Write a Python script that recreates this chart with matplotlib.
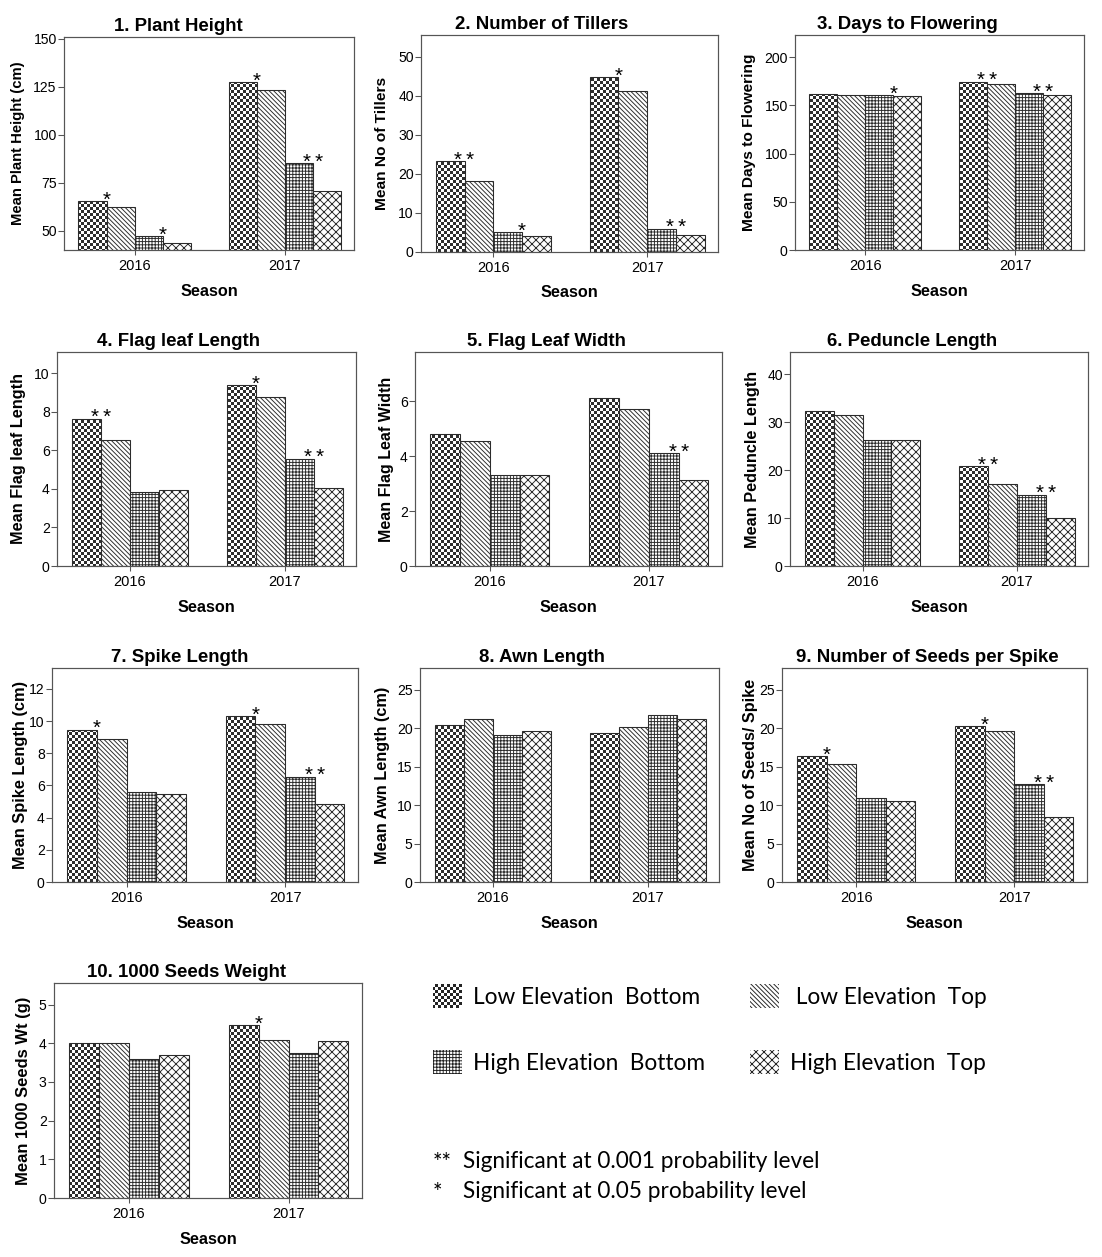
import numpy as np
import matplotlib
matplotlib.use('Agg')
import matplotlib.pyplot as plt
import matplotlib.hatch as mhatch
from matplotlib.path import Path
from matplotlib.patches import Patch

DPI = 96
W, H = 1102, 1257

plt.rcParams['font.family'] = ['Liberation Sans', 'DejaVu Sans']
plt.rcParams['hatch.linewidth'] = 0.7

# means; rows = LEB, LET, HEB, HET ; columns = 2016, 2017
seasons = ['2016', '2017']
groups = ['Low Elevation  Bottom', ' Low Elevation  Top',
          'High Elevation  Bottom', 'High Elevation  Top']

plant_height = [[65.6, 127.4], [62.5, 123.3], [47.4, 85.2], [43.4, 70.5]]
plant_height_sig = [['*', '*'], ['', ''], ['*', '**'], ['', '']]
tillers = [[23.2, 44.8], [18.3, 41.3], [5.2, 6.0], [4.1, 4.4]]
tillers_sig = [['**', '*'], ['', ''], ['*', '**'], ['', '']]
flowering = [[161.9, 174.7], [160.9, 172.6], [161.0, 162.7], [159.6, 160.9]]
flowering_sig = [['', '**'], ['', ''], ['*', '**'], ['', '']]
flag_length = [[7.64, 9.38], [6.56, 8.77], [3.84, 5.56], [3.92, 4.06]]
flag_length_sig = [['**', '*'], ['', ''], ['', '**'], ['', '']]
flag_width = [[4.81, 6.14], [4.55, 5.74], [3.33, 4.11], [3.31, 3.15]]
flag_width_sig = [['', ''], ['', ''], ['', '**'], ['', '']]
peduncle = [[32.3, 20.8], [31.4, 17.0], [26.2, 14.9], [26.2, 10.1]]
peduncle_sig = [['', '**'], ['', ''], ['', '**'], ['', '']]
spike = [[9.47, 10.32], [8.86, 9.84], [5.6, 6.54], [5.48, 4.86]]
spike_sig = [['*', '*'], ['', ''], ['', '**'], ['', '']]
awn = [[20.4, 19.4], [21.2, 20.1], [19.1, 21.7], [19.6, 21.15]]
awn_sig = [['', ''], ['', ''], ['', ''], ['', '']]
seeds = [[16.35, 20.3], [15.35, 19.6], [10.86, 12.67], [10.5, 8.48]]
seeds_sig = [['*', '*'], ['', ''], ['', '**'], ['', '']]
seed_wt = [[4.0, 4.47], [4.0, 4.08], [3.59, 3.75], [3.69, 4.07]]
seed_wt_sig = [['', '*'], ['', ''], ['', ''], ['', '']]

panels = [
    ('1. Plant Height', 'Mean Plant Height (cm)', plant_height, plant_height_sig, (40, 151), [50, 75, 100, 125, 150]),
    ('2. Number of Tillers', 'Mean No of Tillers', tillers, tillers_sig, (0, 55.6), [0, 10, 20, 30, 40, 50]),
    ('3. Days to Flowering', 'Mean Days to Flowering', flowering, flowering_sig, (0, 223), [0, 50, 100, 150, 200]),
    ('4. Flag leaf Length', 'Mean Flag leaf Length', flag_length, flag_length_sig, (0, 11.1), [0, 2, 4, 6, 8, 10]),
    ('5. Flag Leaf Width', 'Mean Flag Leaf Width', flag_width, flag_width_sig, (0, 7.8), [0, 2, 4, 6]),
    ('6. Peduncle Length', 'Mean Peduncle Length', peduncle, peduncle_sig, (0, 44.6), [0, 10, 20, 30, 40]),
    ('7. Spike Length', 'Mean Spike Length (cm)', spike, spike_sig, (0, 13.3), [0, 2, 4, 6, 8, 10, 12]),
    ('8. Awn Length', 'Mean Awn Length (cm)', awn, awn_sig, (0, 27.8), [0, 5, 10, 15, 20, 25]),
    ('9. Number of Seeds per Spike', 'Mean No of Seeds/ Spike', seeds, seeds_sig, (0, 27.8), [0, 5, 10, 15, 20, 25]),
    ('10. 1000 Seeds Weight', 'Mean 1000 Seeds Wt (g)', seed_wt, seed_wt_sig, (0, 5.56), [0, 1, 2, 3, 4, 5]),
]

# axes boxes in pixels (left, right, top, bottom), title x (axes frac),
# ylabel centre offset (px left of axes), ylabel font size
layout = [
    ((64, 354, 37, 250), 0.393, 46, 11.2),
    ((421, 718, 35, 252), 0.407, 39, 11.6),
    ((795, 1084, 35, 250), 0.388, 46, 11.6),
    ((57, 356, 352, 566), 0.408, 38, 12.2),
    ((415, 722, 352, 566), 0.427, 29, 12.0),
    ((790, 1088, 352, 566), 0.410, 38, 12.2),
    ((52, 358, 668, 882), 0.418, 31, 12.3),
    ((420, 719, 668, 882), 0.408, 37, 12.2),
    ((782, 1087, 668, 882), 0.478, 32, 12.2),
    ((54, 362, 983, 1198), 0.430, 30, 12.4),
]


class CheckerHatch(mhatch.HatchPatternBase):
    """checkerboard of filled squares, takes the place of the '*' hatch"""
    filled = True

    def __init__(self, hatch, density):
        self.n = 32 if '*' in hatch else 0
        self.num_vertices = self.n * self.n // 2 * 5

    def set_vertices_and_codes(self, vertices, codes):
        c = 1.0 / self.n
        e = plt.rcParams['hatch.linewidth'] / 72 / 2
        k = 0
        for i in range(self.n):
            for j in range(self.n):
                if (i + j) % 2:
                    continue
                x0, x1 = i * c + e, (i + 1) * c - e
                y0, y1 = j * c + e, (j + 1) * c - e
                vertices[k:k + 5] = [[x0, y0], [x1, y0], [x1, y1], [x0, y1], [x0, y0]]
                codes[k:k + 5] = [Path.MOVETO, Path.LINETO, Path.LINETO, Path.LINETO, Path.CLOSEPOLY]
                k += 5


mhatch._hatch_types[mhatch._hatch_types.index(mhatch.Stars)] = CheckerHatch

hatches = ['*', '\\' * 7, '+' * 5, 'xxxx']
edge = '#2b2b2b'

fig = plt.figure(figsize=(W / DPI, H / DPI), dpi=DPI)
x = np.arange(len(seasons))
bw = 0.187
offs = (np.arange(4) - 1.5) * bw

for (title, ylab, data, sig, ylim, yticks), ((l, r, t, b), tx, ylx, yfs) in zip(panels, layout):
    ax = fig.add_axes([l / W, 1 - b / H, (r - l) / W, (b - t) / H])
    vals = np.array(data)
    for i in range(4):
        bars = ax.bar(x + offs[i], vals[i], bw, color='white', edgecolor=edge,
                      linewidth=0.8, hatch=hatches[i])
        for rect, mark in zip(bars, sig[i]):
            if mark:
                ax.annotate(mark.replace('**', '*\u2009*'),
                            (rect.get_x() + rect.get_width(), rect.get_height()),
                            xytext=(0, -3.5), textcoords='offset points',
                            ha='center', va='baseline', fontsize=15.5)
    ax.set_xlim(-0.47, 1.46)
    ax.set_ylim(*ylim)
    ax.set_yticks(yticks)
    ax.set_xticks(x, seasons)
    for s in ax.spines.values():
        s.set_color('#555555')
        s.set_linewidth(0.9)
    ax.tick_params(axis='y', length=4.5, width=0.8, color='#555555', labelsize=10.5, pad=1)
    ax.tick_params(axis='x', length=4, width=0.8, color='#555555', labelsize=11, pad=3)
    ax.set_title(title, x=tx, pad=4.5, fontsize=14, fontweight='bold')
    ax.set_xlabel('Season', fontsize=12.2, fontweight='bold')
    ax.xaxis.set_label_coords(0.5, -41 / (b - t))
    ax.xaxis.label.set_va('center')
    ax.set_ylabel(ylab, fontsize=yfs, fontweight='bold')
    ax.yaxis.set_label_coords(-ylx / (r - l), 0.5)
    ax.yaxis.label.set_va('center')

handles = [Patch(facecolor='white', edgecolor='#222222', linewidth=0, hatch=h) for h in hatches]
order = [0, 2, 1, 3]
fig.legend([handles[i] for i in order], [groups[i] for i in order], ncol=2,
           loc='upper left', bbox_to_anchor=(433 / W, 1 - 984 / H), frameon=False,
           prop={'family': 'Lato', 'size': 17}, handlelength=1.3, handleheight=1.25,
           handletextpad=0.45, columnspacing=2.0, labelspacing=1.85,
           borderpad=0, borderaxespad=0)

notes = [('**', 'Significant at 0.001 probability level'),
         ('*', 'Significant at 0.05 probability level')]
for k, (mark, txt) in enumerate(notes):
    y = 1 - (1162 + 30 * k) / H
    fig.text(433 / W, y, mark, va='center', fontsize=17, family='Lato')
    fig.text(463 / W, y, txt, va='center', fontsize=17, family='Lato')

fig.savefig('out.png', dpi=DPI)
